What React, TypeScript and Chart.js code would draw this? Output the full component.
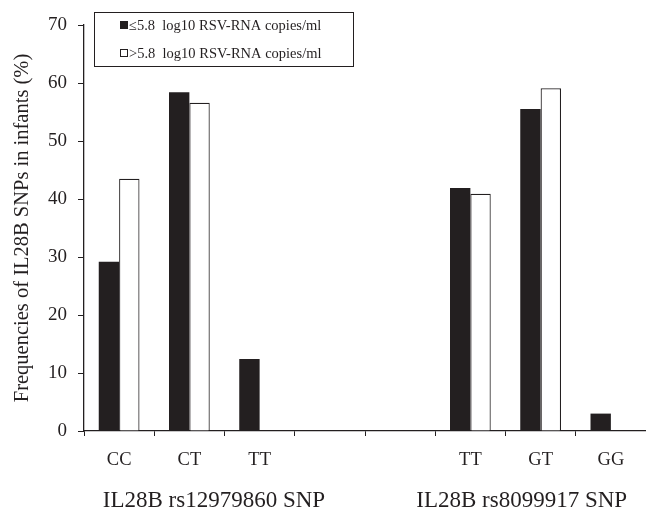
import React, { useEffect, useRef } from "react";
import { Chart, registerables } from "chart.js";

Chart.register(...registerables);

const categories = ["CC", "CT", "TT", "", "", "TT", "GT", "GG"];
const lowLoad = [29.2, 58.4, 12.4, null, null, 41.9, 55.5, 3.0];
const highLoad = [43.5, 56.6, null, null, null, 40.9, 59.1, null];
const seriesNames = ["\u22645.8  log10 RSV-RNA copies/ml", ">5.8  log10 RSV-RNA copies/ml"];
const groupLabels = ["IL28B rs12979860 SNP", "IL28B rs8099917 SNP"];
const groupPositions = [1.35, 5.73];
const yTitle = "Frequencies of IL28B SNPs in infants (%)";

const INK = "#231f20";
const SERIF = "'Liberation Serif', 'Times New Roman', serif";

const overlayPlugin = {
  id: "overlay",
  afterDraw(chart: any) {
    const { ctx, chartArea, scales } = chart;
    const x = scales.x;
    ctx.save();
    ctx.fillStyle = INK;
    ctx.font = `23px ${SERIF}`;
    ctx.textAlign = "center";
    ctx.textBaseline = "alphabetic";
    groupLabels.forEach((t, i) => {
      ctx.fillText(t, x.getPixelForValue(groupPositions[i]), 507);
    });
    const bx = chartArea.left + 10;
    const by = chartArea.top - 13;
    const bw = 259;
    const bh = 54;
    ctx.fillStyle = "#ffffff";
    ctx.fillRect(bx, by, bw, bh);
    ctx.strokeStyle = INK;
    ctx.lineWidth = 1;
    ctx.strokeRect(bx + 0.5, by + 0.5, bw, bh);
    ctx.font = `14.5px ${SERIF}`;
    ctx.textAlign = "left";
    ctx.textBaseline = "middle";
    const rows = [by + 13, by + 41];
    seriesNames.forEach((name, i) => {
      const cy = rows[i];
      if (i === 0) {
        ctx.fillStyle = INK;
        ctx.fillRect(bx + 26, cy - 4, 8, 8);
      } else {
        ctx.fillStyle = "#fff";
        ctx.fillRect(bx + 26, cy - 4, 8, 8);
        ctx.strokeStyle = INK;
        ctx.strokeRect(bx + 26.5, cy - 3.5, 7, 7);
      }
      ctx.fillStyle = INK;
      ctx.fillText(name, bx + 35, cy + 1);
    });
    ctx.restore();
  },
};

export default function App() {
  const ref = useRef<HTMLCanvasElement | null>(null);
  useEffect(() => {
    document.body.style.margin = "0";
    const canvas = ref.current;
    if (!canvas) return;
    const chart = new Chart(canvas, {
      type: "bar",
      data: {
        labels: categories,
        datasets: [
          {
            label: seriesNames[0],
            data: lowLoad as any,
            backgroundColor: INK,
            borderColor: INK,
            borderWidth: 0,
            categoryPercentage: 0.58,
            barPercentage: 1.0,
          },
          {
            label: seriesNames[1],
            data: highLoad as any,
            backgroundColor: "#ffffff",
            borderColor: INK,
            borderWidth: 1.2,
            borderSkipped: "bottom",
            categoryPercentage: 0.58,
            barPercentage: 1.0,
          },
        ],
      },
      options: {
        responsive: false,
        animation: false,
        devicePixelRatio: 1,
        layout: { padding: { top: 25, right: 0, left: 0, bottom: 0 } },
        plugins: {
          legend: { display: false },
          tooltip: { enabled: false },
        },
        scales: {
          x: {
            afterFit: (s: any) => {
              s.height = 80;
            },
            grid: {
              offset: true,
              drawOnChartArea: false,
              drawTicks: true,
              tickLength: 5,
              color: INK,
              lineWidth: 1,
            },
            border: { color: INK, width: 1.3 },
            ticks: {
              color: INK,
              font: { family: SERIF, size: 18.5 },
              padding: 13,
              maxRotation: 0,
              autoSkip: false,
            },
          },
          y: {
            min: 0,
            max: 70,
            afterFit: (s: any) => {
              s.width = 84;
            },
            grid: {
              drawOnChartArea: false,
              drawTicks: true,
              tickLength: 6,
              color: INK,
              lineWidth: 1,
            },
            border: { color: INK, width: 1.3 },
            ticks: {
              stepSize: 10,
              color: INK,
              font: { family: SERIF, size: 19 },
              padding: 11,
            },
            title: {
              display: true,
              text: yTitle,
              color: INK,
              font: { family: SERIF, size: 20.5 },
              padding: { top: 10, bottom: 0 },
            },
          },
        },
      },
      plugins: [overlayPlugin],
    });
    return () => chart.destroy();
  }, []);
  return (
    <div style={{ position: "absolute", left: 0, top: 0, width: 646, height: 511, background: "#fff" }}>
      <canvas ref={ref} width={646} height={511} style={{ display: "block", width: 646, height: 511 }} />
    </div>
  );
}
